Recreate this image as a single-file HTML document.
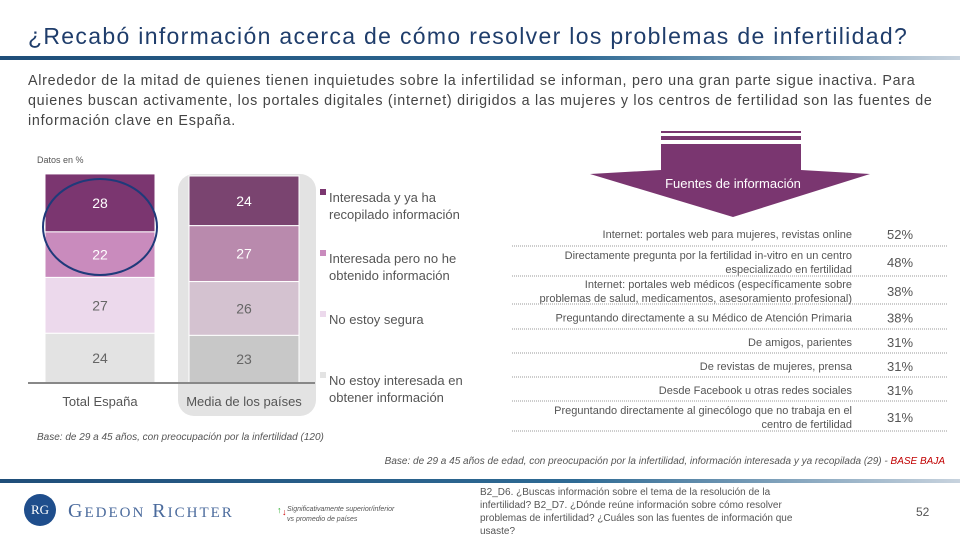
<!DOCTYPE html>
<html><head><meta charset="utf-8"><style>
body{margin:0;width:960px;height:540px;overflow:hidden;background:#fff;font-family:"Liberation Sans",sans-serif;position:relative}
.a{position:absolute;white-space:nowrap}
</style></head><body>
<div class="a" style="left:28px;top:23px;font-size:23px;letter-spacing:1.32px;color:#1f3d6b">¿Recabó información acerca de cómo resolver los problemas de infertilidad?</div>
<div class="a" style="left:0;top:56px;width:960px;height:4px;background:linear-gradient(90deg,#1f4e79,#2e6a94 60%,#c8d3de)"></div>
<div class="a" style="left:28px;top:71px;font-size:14.3px;line-height:20px;color:#444;letter-spacing:0.73px">Alrededor de la mitad de quienes tienen inquietudes sobre la infertilidad se informan, pero una gran parte sigue inactiva. Para<br>quienes buscan activamente, los portales digitales (internet) dirigidos a las mujeres y los centros de fertilidad son las fuentes de<br>información clave en España.</div>
<div class="a" style="left:37px;top:155px;font-size:9px;color:#555">Datos en %</div>

<svg class="a" style="left:0;top:0" width="960" height="540" id="chart"></svg>

<div class="a" style="left:37px;top:432px;font-size:10px;font-style:italic;color:#555">Base: de 29 a 45 años, con preocupación por la infertilidad (120)</div>
<div class="a" style="right:15px;top:456px;font-size:10px;font-style:italic;color:#555">Base: de 29 a 45 años de edad, con preocupación por la infertilidad, información interesada y ya recopilada (29) - <span style="color:#c00000">BASE BAJA</span></div>
<div class="a" style="left:0;top:479px;width:960px;height:4px;background:linear-gradient(90deg,#1f4e79,#2e6a94 60%,#c8d3de)"></div>
<div class="a" style="left:24px;top:494px;width:32px;height:32px;border-radius:50%;background:#1f4e8c;color:#fff;font-family:'Liberation Serif',serif;font-size:13px;line-height:32px;text-align:center">RG</div>
<div class="a" style="left:68px;top:500px;font-family:'Liberation Serif',serif;font-size:20px;letter-spacing:2px;color:#4a6a9c">G<span style="font-size:15px">EDEON</span> R<span style="font-size:15px">ICHTER</span></div>
<div class="a" style="left:287px;top:505px;font-size:7px;font-style:italic;color:#555;line-height:10px"><span style="position:absolute;left:-10px;top:0;color:#2a2;font-size:9px">↑</span><span style="position:absolute;left:-5px;top:2px;color:#c00;font-size:9px">↓</span>Significativamente superior/inferior<br>vs promedio de países</div>
<div class="a" style="left:480px;top:486px;font-size:10px;line-height:13px;color:#555">B2_D6. ¿Buscas información sobre el tema de la resolución de la<br>infertilidad? B2_D7. ¿Dónde reúne información sobre cómo resolver<br>problemas de infertilidad? ¿Cuáles son las fuentes de información que<br>usaste?</div>
<div class="a" style="left:916px;top:505px;font-size:12px;color:#555">52</div>

<script>
const categories=["Total España","Media de los países"];
const seriesNames=["Interesada y ya ha recopilado información","Interesada pero no  he obtenido información","No estoy segura","No estoy interesada en obtener información"];
const spainValues=[28,22,27,24];
const avgValues=[24,27,26,23];
const sourceLabels=[["Internet: portales web para mujeres, revistas online"],["Directamente pregunta por la fertilidad in-vitro en un centro","especializado en fertilidad"],["Internet: portales web médicos (específicamente sobre","problemas de salud, medicamentos, asesoramiento profesional)"],["Preguntando directamente a su Médico de Atención Primaria"],["De amigos, parientes"],["De revistas de mujeres, prensa"],["Desde Facebook u otras redes sociales"],["Preguntando directamente al ginecólogo que no trabaja en el","centro de fertilidad"]];
const sourceValues=[52,48,38,38,31,31,31,31];

const NS="http://www.w3.org/2000/svg";
const svg=document.getElementById('chart');
function mk(t,a,p){const e=document.createElementNS(NS,t);for(const k in a)e.setAttribute(k,a[k]);(p||svg).appendChild(e);return e;}
const base=383,unit=2.07;
const y=v=>base-v*unit;
const colsS=["#7b3670","#c98bbd","#ecd9ec","#e3e3e3"],colsA=["#7a4470","#b98aad","#d4c2d0","#c8c8c8"];
const tcS=["#fff","#fff","#666","#666"],tcA=["#fff","#fff","#666","#666"];
const bg=mk('rect',{x:178,y:174,width:138,height:242,rx:16,fill:'#e3e3e3'});


const xs=[45,189],bw=110;
[spainValues,avgValues].forEach((vals,ci)=>{
  let cum=0;
  const total=vals.reduce((a,b)=>a+b,0);
  vals.forEach((v,i)=>{
    const top=y(total-cum),bot=y(total-cum-v);
    const r=mk('rect',{x:xs[ci],y:top,width:bw,height:bot-top,fill:(ci?colsA:colsS)[i],stroke:'#fff','stroke-width':1});
    
    
    const t=mk('text',{x:xs[ci]+bw/2,y:(top+bot)/2+5,'text-anchor':'middle','font-size':14,fill:(ci?tcA:tcS)[i]});
    t.textContent=v;
    
    
    cum+=v;
  });
  const c=mk('text',{x:xs[ci]+bw/2,y:406,'text-anchor':'middle','font-size':13,fill:'#555'});
  c.textContent=categories[ci];
  
  
});
const ax=mk('line',{x1:28,x2:315,y1:base,y2:base,stroke:'#888','stroke-width':2});


const el=mk('ellipse',{cx:100,cy:227,rx:57,ry:48,fill:'none',stroke:'#1f3a7a','stroke-width':2});


const legY=[[198,215],[259,276],[320],[381,398]];
const legLines=[["Interesada y ya ha","recopilado información"],["Interesada pero no  he","obtenido información"],["No estoy segura"],["No estoy interesada en","obtener información"]];
legLines.forEach((ls,i)=>{
  const s=mk('rect',{x:320,y:legY[i][0]-9,width:6,height:6,fill:colsS[i]});
  
  
  ls.forEach((l,j)=>{const t=mk('text',{x:329,y:legY[i][j]+4,'font-size':13,fill:'#555'});t.textContent=l;
    
    });
});
const ar=mk('g',{fill:'#7a3670'});


mk('rect',{x:661,y:131,width:140,height:2},ar);
mk('rect',{x:661,y:136,width:140,height:4},ar);
mk('path',{d:'M661 144 H801 V170 L870 174 L733 217 L590 174 L661 170 Z'},ar);
const at=mk('text',{x:733,y:188,'text-anchor':'middle','font-size':13,fill:'#fff'});
at.textContent='Fuentes de información';


const lineYs=[246,276,304,329,353,377,401,431];
let prev=220;
sourceValues.forEach((v,i)=>{
  const mid=(prev+lineYs[i])/2+1;
  const ls=sourceLabels[i];
  ls.forEach((l,j)=>{
    const t=mk('text',{x:852,y:mid+4+(j-(ls.length-1)/2)*14,'text-anchor':'end','font-size':11,fill:'#555'});
    t.textContent=l;
    
    
  });
  const vt=mk('text',{x:900,y:mid+5,'text-anchor':'middle','font-size':13,fill:'#555'});
  vt.textContent=v+'%';
  
  
  const dl=mk('line',{x1:512,x2:947,y1:lineYs[i],y2:lineYs[i],stroke:'#999','stroke-width':1,'stroke-dasharray':'1 1'});
  
  
  prev=lineYs[i];
});
</script>
</body></html>
